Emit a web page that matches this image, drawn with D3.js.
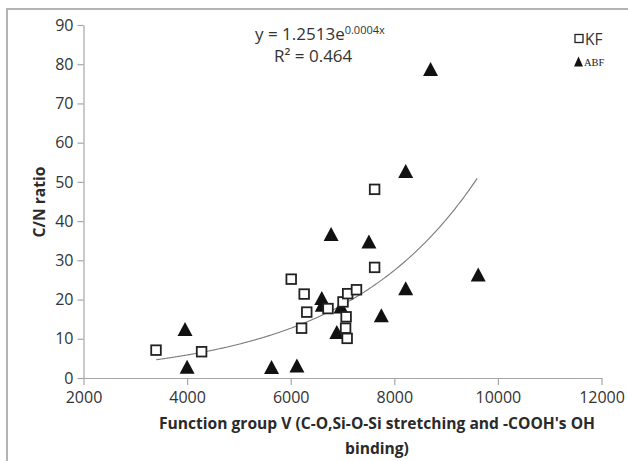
<!DOCTYPE html>
<html>
<head>
<meta charset="utf-8">
<script src="https://cdn.jsdelivr.net/npm/d3@7"></script>
<style>
  body { margin: 0; background: #fff; }
  svg { display: block; }
</style>
</head>
<body>
<div id="chart"></div>
<script>
// KF samples (squares)
const kfX = [3400, 4280, 6010, 6260, 6310, 6210, 6720, 7010, 7100, 7270, 7070, 7060, 7090, 7620, 7620];
const kfY = [7.1, 6.7, 25.2, 21.4, 16.8, 12.7, 17.7, 19.4, 21.5, 22.5, 15.6, 12.7, 10.1, 28.2, 48.1];
// ABF samples (triangles)
const abfX = [3960, 4000, 5630, 6120, 6600, 6610, 6780, 6970, 6890, 7510, 7750, 8220, 8220, 8700, 9620];
const abfY = [12.5, 2.9, 2.8, 3.2, 20.4, 18.7, 36.7, 18.2, 11.7, 34.8, 16.0, 52.8, 22.9, 78.8, 26.4];

const xTicks = [2000, 4000, 6000, 8000, 10000, 12000];
const yTicks = [0, 10, 20, 30, 40, 50, 60, 70, 80, 90];

// exponential trendline y = a * e^(b x)
const trendA = 1.2513, trendB = 0.000386;

var width = 628, height = 461;
var margin = {top: 25, right: 26.5, bottom: 83, left: 83.5};

var svg = d3.select('#chart').append('svg')
  .attr('width', width)
  .attr('height', height);

// outer frame
svg.append('rect')
  .attr('x', 7).attr('y', 9)
  .attr('width', 700).attr('height', 700)
  .attr('fill', 'none')
  .attr('stroke', '#b4b4b4')
  .attr('stroke-width', 2);

var x = d3.scaleLinear()
  .domain([2000, 12000])
  .range([margin.left, width - margin.right]);
var y = d3.scaleLinear()
  .domain([0, 90])
  .range([height - margin.bottom, margin.top]);

var xAxis = svg.append('g')
  .attr('transform', 'translate(0,' + y(0) + ')')
  .call(d3.axisBottom(x).tickValues(xTicks).tickSize(7).tickSizeOuter(0).tickPadding(7).tickFormat(d3.format('d')));
var yAxis = svg.append('g')
  .attr('transform', 'translate(' + x(2000) + ',0)')
  .call(d3.axisLeft(y).tickValues(yTicks).tickSize(6).tickSizeOuter(0).tickPadding(4));

[xAxis, yAxis].forEach(function(g) {
  g.selectAll('path, line').attr('stroke', '#a6a6a6').attr('stroke-width', 1.2);
  g.selectAll('text')
    .attr('fill', '#333')
    .style('font-family', '"Open Sans", sans-serif')
    .style('font-size', '16px');
});

// trendline
var ext = d3.extent(kfX.concat(abfX));
var trendXs = d3.range(ext[0], ext[1] + 1, 40);
var line = d3.line()
  .curve(d3.curveBasis)
  .x(function(d) { return x(d); })
  .y(function(d) { return y(trendA * Math.exp(trendB * d)); });

svg.append('path')
  .datum(trendXs)
  .attr('fill', 'none')
  .attr('stroke', '#7a7a7a')
  .attr('stroke-width', 1.1)
  .attr('d', line);

function tri(w, h) {
  return 'M0,' + (-h / 2) + 'L' + (w / 2) + ',' + (h / 2) + 'L' + (-w / 2) + ',' + (h / 2) + 'Z';
}

// ABF triangles
svg.append('g').selectAll('path')
  .data(abfX.map(function(d, i) { return [d, abfY[i]]; }))
  .enter().append('path')
  .attr('transform', function(d) { return 'translate(' + x(d[0]) + ',' + y(d[1]) + ')'; })
  .attr('d', tri(15, 14))
  .attr('fill', '#111');

// KF squares
svg.append('g').selectAll('rect')
  .data(kfX.map(function(d, i) { return [d, kfY[i]]; }))
  .enter().append('rect')
  .attr('x', function(d) { return x(d[0]) - 4.8; })
  .attr('y', function(d) { return y(d[1]) - 4.8; })
  .attr('width', 9.6).attr('height', 9.6)
  .attr('fill', '#fff')
  .attr('stroke', '#222')
  .attr('stroke-width', 1.8);

// axis titles
var titleFont = function(t) {
  return t.style('font-family', '"Open Sans", sans-serif')
    .style('font-size', '15.6px').style('font-weight', 'bold')
    .attr('fill', '#2a2a2a');
};
svg.append('text')
  .attr('x', 377).attr('y', 429)
  .attr('text-anchor', 'middle')
  .call(titleFont)
  .text("Function group V (C-O,Si-O-Si stretching and -COOH's OH");
svg.append('text')
  .attr('x', 377).attr('y', 454)
  .attr('text-anchor', 'middle')
  .call(titleFont)
  .text('binding)');
svg.append('text')
  .attr('transform', 'translate(45,202) rotate(-90)')
  .attr('text-anchor', 'middle')
  .call(titleFont)
  .text('C/N ratio');

// trend equation
var eq = svg.append('text')
  .attr('x', 255).attr('y', 40)
  .style('font-family', '"Open Sans", sans-serif')
  .style('font-size', '17px')
  .attr('fill', '#333');
eq.append('tspan').text('y = 1.2513e');
eq.append('tspan').attr('dy', -6).style('font-size', '11px').text('0.0004x');
svg.append('text')
  .attr('x', 274).attr('y', 62)
  .style('font-family', '"Open Sans", sans-serif')
  .style('font-size', '17px')
  .attr('fill', '#333')
  .text('R\u00b2 = 0.464');

// legend
svg.append('rect')
  .attr('x', 575).attr('y', 34.5)
  .attr('width', 8).attr('height', 8)
  .attr('fill', '#fff').attr('stroke', '#222').attr('stroke-width', 1.3);
svg.append('text')
  .attr('x', 585).attr('y', 44.5)
  .style('font-family', '"Open Sans", sans-serif')
  .style('font-size', '15.5px')
  .attr('fill', '#333')
  .text('KF');
svg.append('path')
  .attr('transform', 'translate(578.5,61.5)')
  .attr('d', tri(9, 10))
  .attr('fill', '#111');
svg.append('text')
  .attr('x', 584).attr('y', 66)
  .style('font-family', '"Liberation Serif", "Times New Roman", serif')
  .style('font-size', '10.5px')
  .attr('fill', '#222')
  .text('ABF');
</script>
</body>
</html>
